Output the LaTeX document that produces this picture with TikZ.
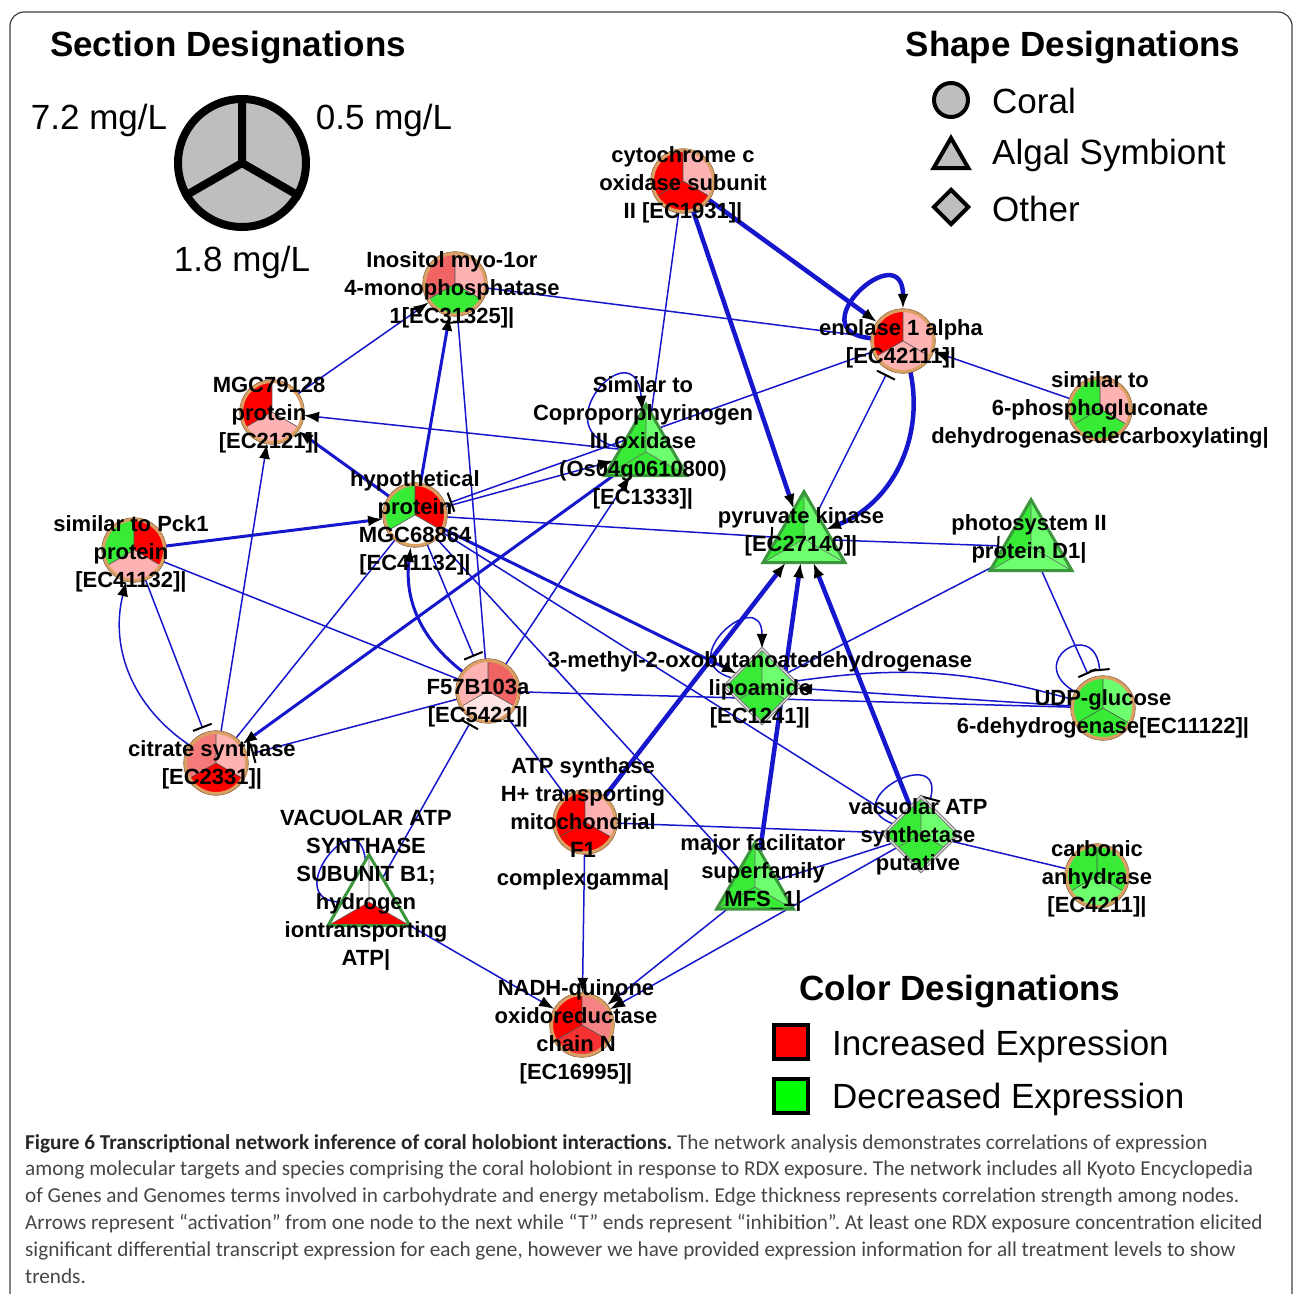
\documentclass[tikz,border=0pt]{standalone}
\usepackage{fontspec}
\setmainfont{Liberation Sans}
\newfontfamily\capfont{Carlito}
\usepackage{tikz}
\usetikzlibrary{arrows.meta, shapes.geometric}
\definecolor{eblue}{RGB}{22,22,205}
\definecolor{upred}{RGB}{255,0,0}
\definecolor{midred}{RGB}{240,100,100}
\definecolor{lpink}{RGB}{255,178,178}
\definecolor{pale}{RGB}{255,228,228}
\definecolor{dngreen}{RGB}{55,235,55}
\definecolor{lgreen}{RGB}{110,255,110}
\definecolor{legreen}{RGB}{0,255,0}
\definecolor{ringtan}{RGB}{218,160,100}
\definecolor{ringdark}{RGB}{140,90,45}
\definecolor{trigreen}{RGB}{60,150,60}
\definecolor{legray}{RGB}{190,190,190}
\definecolor{capgray}{RGB}{70,70,70}
\pgfdeclarelayer{edges}
\pgfsetlayers{edges,main}

\tikzstyle{link} = [draw=eblue, line width=1.5pt]
\tikzstyle{midlink} = [draw=eblue, line width=3pt]
\tikzstyle{heavylink} = [draw=eblue, line width=4.5pt]
\tikzstyle{act} = [-{Latex[length=15pt,width=11pt,color=black]}]
\tikzstyle{inh} = [-{Bar[width=20pt,line width=2pt,color=black]}, shorten >=5pt]
\tikzstyle{gene} = [circle, minimum size=64pt, inner sep=0pt]
\tikzstyle{algal} = [regular polygon, regular polygon sides=3, minimum size=94pt, inner sep=0pt]
\tikzstyle{other} = [diamond, minimum size=74pt, inner sep=0pt]
\tikzstyle{lbl} = [align=center, inner sep=0pt, font=\fontsize{22}{28}\selectfont\bfseries]
\tikzstyle{legtext} = [anchor=west, inner sep=0pt, font=\fontsize{35}{40}\selectfont]
\tikzstyle{leghead} = [inner sep=0pt, font=\fontsize{35}{40}\selectfont\bfseries]

% three dose sectors: 7.2 (upper left), 0.5 (upper right), 1.8 (bottom)
\newcommand{\circpie}[4]{%
  \fill [#2] (#1.center) -- ++(90:31pt) arc [start angle=90, end angle=210, radius=31pt] -- cycle;
  \fill [#3] (#1.center) -- ++(-30:31pt) arc [start angle=-30, end angle=90, radius=31pt] -- cycle;
  \fill [#4] (#1.center) -- ++(210:31pt) arc [start angle=210, end angle=330, radius=31pt] -- cycle;
  \draw [black!70, line width=0.6pt] (#1.center) -- ++(90:31pt) (#1.center) -- ++(210:31pt) (#1.center) -- ++(330:31pt);
  \draw [ringtan, line width=3pt] (#1.center) circle [radius=30.5pt];
  \draw [ringdark, line width=0.6pt] (#1.center) circle [radius=32.3pt];
}
\newcommand{\tripie}[4]{%
  \fill [#2] (#1.center) -- (#1.corner 1) -- (#1.corner 2) -- cycle;
  \fill [#3] (#1.center) -- (#1.corner 3) -- (#1.corner 1) -- cycle;
  \fill [#4] (#1.center) -- (#1.corner 2) -- (#1.corner 3) -- cycle;
  \draw [black!60, line width=0.6pt] (#1.center) -- (#1.corner 1) (#1.center) -- (#1.corner 2) (#1.center) -- (#1.corner 3);
  \draw [trigreen, line width=3pt] (#1.corner 1) -- (#1.corner 2) -- (#1.corner 3) -- cycle;
}
\newcommand{\diapie}[4]{%
  \fill [#2] (#1.center) -- (#1.north) -- (#1.west) -- (#1.210) -- cycle;
  \fill [#3] (#1.center) -- (#1.330) -- (#1.east) -- (#1.north) -- cycle;
  \fill [#4] (#1.center) -- (#1.210) -- (#1.south) -- (#1.330) -- cycle;
  \draw [black!60, line width=0.6pt] (#1.center) -- (#1.north) (#1.center) -- (#1.210) (#1.center) -- (#1.330);
  \draw [gray, double=white!85!gray, double distance=1pt, line width=1.2pt] (#1.north) -- (#1.west) -- (#1.south) -- (#1.east) -- cycle;
}

\begin{document}
\begin{tikzpicture}[x=1pt, y=-1pt]
\useasboundingbox (0,0) rectangle (1293,1294);
\draw [black!75, line width=1.2pt, rounded corners=14pt] (10,12) rectangle (1292,1330);

% section legend
\node [leghead] (sechead) at (228,48) {Section Designations};
\node [circle, draw, line width=8pt, fill=legray, minimum size=128pt, inner sep=0pt] (secpie) at (242,163) {};
\draw [line width=8pt] (secpie.center) -- (secpie.90) (secpie.center) -- (secpie.210) (secpie.center) -- (secpie.330);
\fill (secpie.center) circle [radius=4pt];
\node [inner sep=0pt, font=\fontsize{35}{40}\selectfont] (dosehi) at (99,120) {7.2 mg/L};
\node [inner sep=0pt, font=\fontsize{35}{40}\selectfont] (doselo) at (384,120) {0.5 mg/L};
\node [inner sep=0pt, font=\fontsize{35}{40}\selectfont] (dosemid) at (242,262) {1.8 mg/L};

% shape legend
\node [leghead] (shapehead) at (1073,48) {Shape Designations};
\node [circle, draw, line width=4pt, fill=legray, minimum size=34pt, inner sep=0pt] (lcoral) at (951,100) {};
\node [regular polygon, regular polygon sides=3, draw, line width=4pt, fill=legray, minimum size=40pt, inner sep=0pt] (lalgal) at (951,158) {};
\node [diamond, draw, line width=4pt, fill=legray, minimum size=36pt, inner sep=0pt] (lother) at (951,207) {};
\node [legtext] (tcoral) at (992,101) {Coral};
\node [legtext] (talgal) at (992,155) {Algal Symbiont};
\node [legtext] (tother) at (992,209) {Other};

% colour legend
\node [leghead] (colhead) at (960,992) {Color Designations};
\node [rectangle, draw, line width=4pt, fill=upred, minimum size=34pt, inner sep=0pt] (lup) at (791,1042) {};
\node [rectangle, draw, line width=4pt, fill=legreen, minimum size=34pt, inner sep=0pt] (ldown) at (791,1096) {};
\node [legtext] (tup) at (832,1046) {Increased Expression};
\node [legtext] (tdown) at (832,1099) {Decreased Expression};

% genes
\node [gene] (cyt) at (683,181) {};
\node [gene] (ino) at (455,284) {};
\node [gene] (eno) at (903,341) {};
\node [gene] (sim6) at (1100,409) {};
\node [gene] (mgc79) at (272,412) {};
\node [gene] (hyp) at (415,515) {};
\node [gene] (pck1) at (134,550) {};
\node [gene] (udp) at (1103,708) {};
\node [gene] (f57) at (488,691) {};
\node [gene] (cit) at (216,763) {};
\node [gene] (atp) at (585,822) {};
\node [gene] (carb) at (1097,876) {};
\node [gene] (nadh) at (582,1025) {};
\node [algal] (copro) at (646,452) {};
\node [algal] (pyr) at (804,539) {};
\node [algal] (psii) at (1031,547) {};
\node [algal, minimum size=88pt] (mfs) at (755,887) {};
\node [algal, minimum size=94pt] (vac) at (369,902) {};
\node [other] (lipo) at (762,686) {};
\node [other] (vatp) at (921,834) {};

\circpie{cyt}{upred}{lpink}{upred}
\circpie{ino}{midred}{lpink}{dngreen}
\circpie{eno}{upred}{lpink}{lpink}
\circpie{sim6}{dngreen}{lpink}{dngreen}
\circpie{mgc79}{upred}{white}{lpink}
\circpie{hyp}{dngreen}{upred}{white}
\circpie{pck1}{dngreen}{upred}{lpink}
\circpie{udp}{dngreen}{lgreen}{dngreen}
\circpie{f57}{lpink}{midred}{pale}
\circpie{cit}{midred!70!lpink}{lpink}{upred}
\circpie{atp}{upred}{lpink}{upred}
\circpie{carb}{dngreen}{dngreen}{lgreen}
\circpie{nadh}{upred}{midred!60!lpink}{midred!50!upred}
\tripie{copro}{dngreen}{lgreen}{dngreen}
\tripie{pyr}{dngreen}{lgreen}{lgreen}
\tripie{psii}{dngreen}{lgreen}{lgreen}
\tripie{mfs}{dngreen}{lgreen}{dngreen}
\tripie{vac}{white}{white}{upred}
\diapie{lipo}{dngreen}{lgreen}{dngreen}
\diapie{vatp}{dngreen}{lgreen}{dngreen}

% correlations
\begin{pgfonlayer}{edges}
\draw [heavylink, act] (cyt) to (pyr);
\draw [heavylink, act] (cyt) to (eno);
\draw [heavylink, act] (eno) to [out=175, in=90, min distance=75pt] (eno);
\draw [heavylink, act] (eno) to [bend left=40] (pyr);
\draw [heavylink, act] (atp) to (pyr);
\draw [heavylink, act] (mfs) to (pyr);
\draw [heavylink, act] (vatp) to (pyr);
\draw [midlink, act] (copro) to (cit);
\draw [midlink, act] (hyp) to (lipo);
\draw [midlink, act] (hyp) to (ino);
\draw [midlink, act] (hyp) to (mgc79);
\draw [midlink, act] (pck1) to (hyp);
\draw [midlink, act] (f57) to [bend left=30] (hyp);
\draw [link] (cyt) to (copro);
\draw [link] (ino) to (eno);
\draw [link, act] (mgc79) to (ino);
\draw [link, act] (copro) to (mgc79);
\draw [link, act] (copro) to [out=170, in=95, min distance=85pt] (copro);
\draw [link, act] (hyp) to (copro);
\draw [link, act] (f57) to (copro);
\draw [link, inh] (eno) to (hyp);
\draw [link, inh] (pyr) to (eno);
\draw [link, act] (sim6) to (eno);
\draw [link, inh] (hyp) to (pyr);
\draw [link, inh] (pyr) to (psii);
\draw [link] (psii) to (lipo);
\draw [link, inh] (psii) to (udp);
\draw [link, inh] (udp) to [out=150, in=95, min distance=60pt] (udp);
\draw [link, act] (udp) to (lipo);
\draw [link] (lipo) to [bend left=12] (udp);
\draw [link] (f57) to (udp);
\draw [link, act] (lipo) to [out=165, in=90, min distance=65pt] (lipo);
\draw [link] (hyp) to (vatp);
\draw [link] (hyp) to (mfs);
\draw [link, inh] (hyp) to (f57);
\draw [link, inh] (f57) to (ino);
\draw [link, act] (cit) to (mgc79);
\draw [link, act] (cit) to [bend left=35] (pck1);
\draw [link, inh] (pck1) to (cit);
\draw [link] (pck1) to (f57);
\draw [link] (cit) to (hyp);
\draw [link, inh] (f57) to (cit);
\draw [link, inh] (vac) to (f57);
\draw [link] (vac) to [out=180, in=95, min distance=65pt] (vac);
\draw [link, act] (vac) to (nadh);
\draw [link, act] (atp) to (nadh);
\draw [link, act] (mfs) to (nadh);
\draw [link, act] (vatp) to (nadh);
\draw [link] (atp) to (vatp);
\draw [link] (mfs) to (vatp);
\draw [link, inh] (vatp) to [out=160, in=75, min distance=65pt] (vatp);
\draw [link] (vatp) to (carb);
\draw [link] (f57) to (atp);
\end{pgfonlayer}

% gene labels
\node [lbl] (cyt-l) at (683,185) {cytochrome c\\oxidase subunit\\II [EC1931]|};
\node [lbl] (ino-l) at (452,290) {Inositol myo-1or\\4-monophosphatase\\1{[EC31325]}|};
\node [lbl] (eno-l) at (901,344) {enolase 1 alpha\\{}[EC42111]|};
\node [lbl] (sim6-l) at (1100,410) {similar to\\6-phosphogluconate\\dehydrogenasedecarboxylating|};
\node [lbl] (mgc79-l) at (269,415) {MGC79128\\protein\\{}[EC2121]|};
\node [lbl] (copro-l) at (643,443) {Similar to\\Coproporphyrinogen\\III oxidase\\(Os04g0610800)\\{}[EC1333]|};
\node [lbl] (hyp-l) at (415,523) {hypothetical\\protein\\MGC68864\\{}[EC41132]|};
\node [lbl] (pck1-l) at (131,554) {similar to Pck1\\protein\\{}[EC41132]|};
\node [lbl] (pyr-l) at (801,532) {pyruvate kinase\\{}[EC27140]|};
\node [lbl] (psii-l) at (1029,539) {photosystem II\\protein D1|};
\node [lbl] (lipo-l) at (760,690) {3-methyl-2-oxobutanoatedehydrogenase\\lipoamide\\{}[EC1241]|};
\node [lbl] (udp-l) at (1103,714) {UDP-glucose\\6-dehydrogenase[EC11122]|};
\node [lbl] (f57-l) at (478,703) {F57B103a\\{}[EC5421]|};
\node [lbl] (cit-l) at (212,765) {citrate synthase\\{}[EC2331]|};
\node [lbl] (atp-l) at (583,824) {ATP synthase\\H+ transporting\\mitochondrial\\F1\\complexgamma|};
\node [lbl] (vac-l) at (366,890) {VACUOLAR ATP\\SYNTHASE\\SUBUNIT B1;\\hydrogen\\iontransporting\\ATP|};
\node [lbl] (mfs-l) at (763,873) {major facilitator\\superfamily\\MFS\_1|};
\node [lbl] (vatp-l) at (918,837) {vacuolar ATP\\synthetase\\putative};
\node [lbl] (carb-l) at (1097,879) {carbonic\\anhydrase\\{}[EC4211]|};
\node [lbl] (nadh-l) at (576,1032) {NADH-quinone\\oxidoreductase\\chain N\\{}[EC16995]|};

% caption
\node [anchor=north west, align=left, inner sep=0pt, text=capgray, font=\capfont\fontsize{21.2}{26.8}\selectfont\frenchspacing] (caption) at (25,1134) {%
{\bfseries\color{black!85}Figure 6 Transcriptional network inference of coral holobiont interactions.} The network analysis demonstrates correlations of expression\\
among molecular targets and species comprising the coral holobiont in response to RDX exposure. The network includes all Kyoto Encyclopedia\\
of Genes and Genomes terms involved in carbohydrate and energy metabolism. Edge thickness represents correlation strength among nodes.\\
Arrows represent “activation” from one node to the next while “T” ends represent “inhibition”. At least one RDX exposure concentration elicited\\
significant differential transcript expression for each gene, however we have provided expression information for all treatment levels to show\\
trends.};
\end{tikzpicture}
\end{document}
